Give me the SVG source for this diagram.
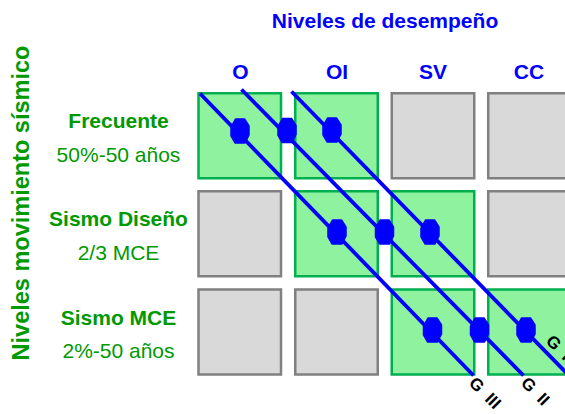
<svg xmlns="http://www.w3.org/2000/svg" width="565" height="414" viewBox="0 0 565 414">
<style>
.t{font-family:"Liberation Sans",Arial,sans-serif;}
.hdr{fill:#0000FF;font-weight:bold;font-size:21px;text-anchor:middle;}
.gb{fill:#009900;font-weight:bold;font-size:21px;text-anchor:middle;}
.gr{fill:#009900;font-size:21px;text-anchor:middle;}
.on{fill:#8FF29E;stroke:#00B050;stroke-width:2.5;}
.off{fill:#D9D9D9;stroke:#808080;stroke-width:2.5;}
.ln{stroke:#0000FF;stroke-width:3.8;fill:none;}
.hx{fill:#0000FF;stroke:#0000FF;stroke-width:1.5;stroke-linejoin:round;}
.gl{fill:#000;font-weight:bold;font-size:17px;}
</style>
<defs>
<polygon id="hex" points="-4.5,-12 4.5,-12 9,-5 9,4 5,12 -5,12 -9,5 -9,-4"/>
</defs>
<g id="headers">
<text class="t hdr" x="385" y="28">Niveles de desempeño</text>
<text class="t hdr" x="240.5" y="79">O</text>
<text class="t hdr" x="337" y="79">OI</text>
<text class="t hdr" x="433" y="79">SV</text>
<text class="t hdr" x="529" y="79">CC</text>
</g>
<g id="row-labels">
<text class="t gb" transform="translate(29,203) rotate(-90)" style="font-size:23.5px">Niveles movimiento sísmico</text>
<text class="t gb" x="118.5" y="128">Frecuente</text>
<text class="t gr" x="118.5" y="162">50%-50 años</text>
<text class="t gb" x="118.5" y="226">Sismo Diseño</text>
<text class="t gr" x="118.5" y="260">2/3 MCE</text>
<text class="t gb" x="118.5" y="325">Sismo MCE</text>
<text class="t gr" x="118.5" y="358">2%-50 años</text>
</g>
<g id="cells">
<rect class="on" x="198.5" y="93.25" width="82.5" height="85"/>
<rect class="on" x="295.25" y="93.25" width="82.5" height="85"/>
<rect class="off" x="391.75" y="93.25" width="82.5" height="85"/>
<rect class="off" x="488.25" y="93.25" width="82.5" height="85"/>
<rect class="off" x="198.5" y="191.25" width="82.5" height="85"/>
<rect class="on" x="295.25" y="191.25" width="82.5" height="85"/>
<rect class="on" x="391.75" y="191.25" width="82.5" height="85"/>
<rect class="off" x="488.25" y="191.25" width="82.5" height="85"/>
<rect class="off" x="198.5" y="289.5" width="82.5" height="85"/>
<rect class="off" x="295.25" y="289.5" width="82.5" height="85"/>
<rect class="on" x="391.75" y="289.5" width="82.5" height="85"/>
<rect class="on" x="488.25" y="289.5" width="82.5" height="85"/>
</g>
<g id="connectors">
<line class="ln" x1="200" y1="93.5" x2="473.5" y2="375.5"/>
<line class="ln" x1="241.5" y1="89.5" x2="523.5" y2="375.5"/>
<line class="ln" x1="291.5" y1="91.5" x2="585" y2="392"/>
</g>
<g id="markers">
<use href="#hex" class="hx" x="240" y="131"/>
<use href="#hex" class="hx" x="287" y="130.5"/>
<use href="#hex" class="hx" x="332" y="130"/>
<use href="#hex" class="hx" x="337" y="232"/>
<use href="#hex" class="hx" x="384.5" y="232"/>
<use href="#hex" class="hx" x="430" y="232"/>
<use href="#hex" class="hx" x="432.5" y="330"/>
<use href="#hex" class="hx" x="479.5" y="330"/>
<use href="#hex" class="hx" x="526" y="330"/>
</g>
<g id="group-labels">
<text class="t gl" transform="translate(468,384) rotate(45)" xml:space="preserve">G  III</text>
<text class="t gl" transform="translate(520,384) rotate(45)" xml:space="preserve">G  II</text>
<text class="t gl" transform="translate(545,342) rotate(45)" xml:space="preserve">G  I</text>
</g>
</svg>
